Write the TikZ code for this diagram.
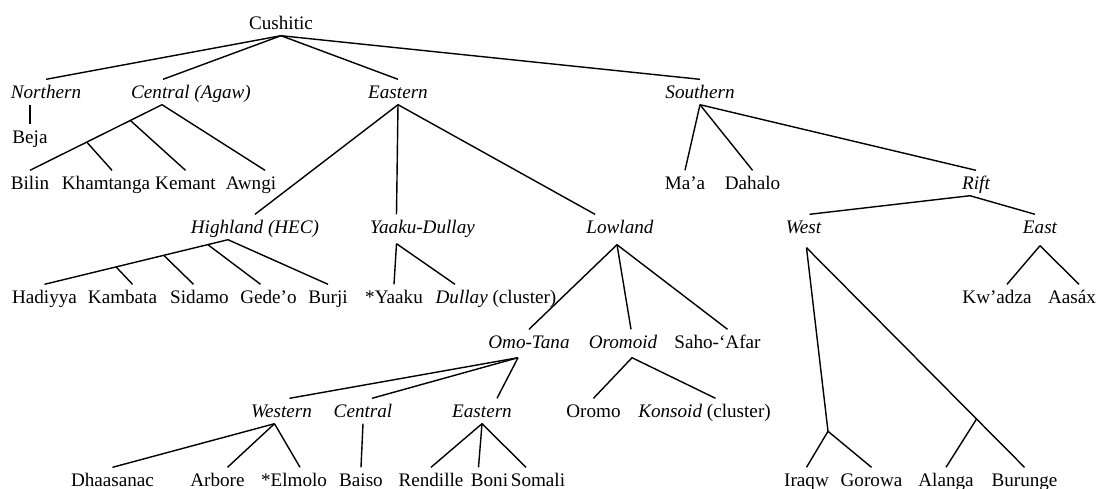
\documentclass[tikz,border=0pt]{standalone}
\usepackage{fontspec}
\setmainfont{Liberation Serif}
\usetikzlibrary{calc}
\newcommand\treefont{\fontsize{10.9}{13}\selectfont}

\begin{document}
\begin{tikzpicture}[x=0.02cm, y=-0.02cm, line width=0.8pt,
    lang/.style={anchor=base, inner xsep=0pt, inner ysep=0.12cm,
      text height=0.24cm, text depth=0pt, font=\treefont},
    grp/.style={lang, font=\treefont\itshape}]
    \useasboundingbox (0,0) rectangle (1099,488);

    % Raiz e ramos principais
    \node[lang] (cush) at (281,29) {Cushitic};
    \node[grp] (north) at (46,98) {Northern};
    \node[grp] (agaw) at (191,98) {Central (Agaw)};
    \node[grp] (east) at (398,98) {Eastern};
    \node[grp] (south) at (700,98) {Southern};

    % Segundo nivel
    \node[lang] (beja) at (30,143) {Beja};
    \node[lang] (bilin) at (30,189) {Bilin};
    \node[lang] (khamt) at (106,189) {Khamtanga};
    \node[lang] (kemant) at (185.5,189) {Kemant};
    \node[lang] (awngi) at (251,189) {Awngi};
    \node[lang] (maa) at (685,189) {Ma’a};
    \node[lang] (dahalo) at (752.5,189) {Dahalo};
    \node[grp] (rift) at (976,189) {Rift};
    \node[grp] (highland) at (255,233) {Highland (HEC)};
    \node[grp] (yaakud) at (422.5,233) {Yaaku-Dullay};
    \node[grp] (lowland) at (620,233) {Lowland};
    \node[grp] (west) at (803.5,233) {West};
    \node[grp] (eastr) at (1040,233) {East};

    % Terceiro nivel
    \node[lang] (hadiyya) at (44.5,303) {Hadiyya};
    \node[lang] (kambata) at (122.5,303) {Kambata};
    \node[lang] (sidamo) at (199.5,303) {Sidamo};
    \node[lang] (gedeo) at (268.5,303) {Gede’o};
    \node[lang] (burji) at (328,303) {Burji};
    \node[lang] (yaaku) at (394,303) {*Yaaku};
    \node[lang] (dullay) at (496,303) {\textit{Dullay} (cluster)};
    \node[lang] (kwadza) at (997,303) {Kw’adza};
    \node[lang] (aasax) at (1072,303) {Aasáx};
    \node[grp] (omotana) at (529,348) {Omo-Tana};
    \node[grp] (oromoid) at (623,348) {Oromoid};
    \node[lang] (saho) at (717.5,348) {Saho-‘Afar};
    \node[grp] (western) at (281.5,417) {Western};
    \node[grp] (centralot) at (363,417) {Central};
    \node[grp] (easternot) at (482,417) {Eastern};
    \node[lang] (oromo) at (593.5,417) {Oromo};
    \node[lang] (konsoid) at (704.5,417) {\textit{Konsoid} (cluster)};

    % Linha de baixo
    \node[lang] (dhaasanac) at (112.5,486) {Dhaasanac};
    \node[lang] (arbore) at (217.5,486) {Arbore};
    \node[lang] (elmolo) at (294,486) {*Elmolo};
    \node[lang] (baiso) at (361,486) {Baiso};
    \node[lang] (rendille) at (431,486) {Rendille};
    \node[lang] (boni) at (489.5,486) {Boni};
    \node[lang] (somali) at (538,486) {Somali};
    \node[lang] (iraqw) at (806.5,486) {Iraqw};
    \node[lang] (gorowa) at (871.5,486) {Gorowa};
    \node[lang] (alanga) at (946,486) {Alanga};
    \node[lang] (burunge) at (1024.5,486) {Burunge};

    % Pontos de ramificacao
    \coordinate (agaw-j) at ($(agaw.south)+(-29,0)$);
    \coordinate (hec-j) at ($(highland.south)+(-27,0)$);
    \coordinate (yd-j) at ($(yaakud.south)+(-26,4)$);
    \coordinate (low-j) at ($(lowland.south)+(-3,5)$);
    \coordinate (rift-j) at ($(rift.south)+(-6,0)$);
    \coordinate (w-j) at ($(west.south)+(3,8)$);
    \coordinate (er-j) at ($(eastr.south)+(0,6)$);
    \coordinate (ot-j) at ($(omotana.south)+(-11,3)$);
    \coordinate (orm-j) at ($(oromoid.south)+(9,3)$);
    \coordinate (ig-j) at ($(iraqw.north)!0.5!(gorowa.north)+(-11,-36)$);

    % Cushitic
    \draw (cush.south) -- (north.north);
    \draw (cush.south) -- ($(agaw.north)+(-28,0)$);
    \draw (cush.south) -- (east.north);
    \draw (cush.south) -- (south.north);
    \draw (north.south -| beja.north) -- (beja.north);

    % Central (Agaw)
    \draw (agaw-j) -- (bilin.north);
    \draw ($(agaw-j)!0.57!(bilin.north)$) -- ($(khamt.north)+(6,0)$);
    \draw ($(agaw-j)!0.24!(bilin.north)$) -- (kemant.north);
    \draw (agaw-j) -- ($(awngi.north)+(14,0)$);

    % Eastern
    \draw (east.south) -- (highland.north);
    \draw (east.south) -- ($(yaakud.north)+(-26,0)$);
    \draw (east.south) -- ($(lowland.north)+(-25,0)$);
    \draw (hec-j) -- (hadiyya.north);
    \draw ($(hec-j)!0.61!(hadiyya.north)$) -- ($(kambata.north)+(10,0)$);
    \draw ($(hec-j)!0.35!(hadiyya.north)$) -- ($(sidamo.north)+(-6,0)$);
    \draw ($(hec-j)!0.11!(hadiyya.north)$) -- ($(gedeo.north)+(-8,0)$);
    \draw (hec-j) -- (burji.north);
    \draw (yd-j) -- (yaaku.north);
    \draw (yd-j) -- ($(dullay.north)+(-41,0)$);
    \draw (low-j) -- (omotana.north);
    \draw (low-j) -- ($(oromoid.north)+(8,0)$);
    \draw (low-j) -- ($(saho.north)+(10,0)$);
    \draw (ot-j) -- ($(western.north)+(8,0)$);
    \draw (ot-j) -- ($(centralot.north)+(9,0)$);
    \draw (ot-j) -- ($(easternot.north)+(15,0)$);
    \draw (orm-j) -- (oromo.north);
    \draw (orm-j) -- ($(konsoid.north)+(11,0)$);
    \draw ($(western.south)+(-7,0)$) -- (dhaasanac.north);
    \draw ($(western.south)+(-7,0)$) -- ($(arbore.north)+(10,0)$);
    \draw ($(western.south)+(-7,0)$) -- ($(elmolo.north)+(6,0)$);
    \draw (centralot.south) -- (baiso.north);
    \draw (easternot.south) -- (rendille.north);
    \draw (easternot.south) -- ($(boni.north)+(-11,0)$);
    \draw (easternot.south) -- ($(somali.north)+(-12,0)$);

    % Southern
    \draw (south.south) -- (maa.north);
    \draw (south.south) -- (dahalo.north);
    \draw (south.south) -- (rift.north);
    \draw (rift-j) -- ($(west.north)+(6,0)$);
    \draw (rift-j) -- ($(eastr.north)+(-5,0)$);
    \draw (er-j) -- ($(kwadza.north)+(10,0)$);
    \draw (er-j) -- ($(aasax.north)+(7,0)$);
    \draw (w-j) -- (ig-j);
    \draw (ig-j) -- (iraqw.north);
    \draw (ig-j) -- (gorowa.north);
    \draw (w-j) -- (burunge.north);
    \draw ($(w-j)!0.78!(burunge.north)$) -- (alanga.north);

\end{tikzpicture}
\end{document}
